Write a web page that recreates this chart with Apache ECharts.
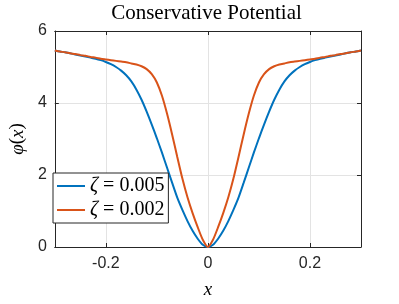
<!DOCTYPE html>
<html>
<head>
<meta charset="utf-8">
<script src="https://cdn.jsdelivr.net/npm/echarts@6/dist/echarts.min.js"></script>
<style>
html,body{margin:0;padding:0;background:#fff;}
#c{width:399px;height:304px;}
</style>
</head>
<body>
<div id="c"></div>
<script>
// ---- data ----
const xValues = [-0.30,-0.29,-0.28,-0.27,-0.26,-0.25,-0.24,-0.23,-0.22,-0.21,-0.20,-0.19,-0.18,-0.17,-0.16,-0.15,-0.14,-0.13,-0.12,-0.11,-0.10,-0.09,-0.08,-0.07,-0.06,-0.05,-0.04,-0.03,-0.02,-0.01,0,0.01,0.02,0.03,0.04,0.05,0.06,0.07,0.08,0.09,0.10,0.11,0.12,0.13,0.14,0.15,0.16,0.17,0.18,0.19,0.20,0.21,0.22,0.23,0.24,0.25,0.26,0.27,0.28,0.29,0.30];
const phiZeta005 = [5.46,5.43,5.41,5.38,5.35,5.32,5.29,5.26,5.23,5.19,5.14,5.08,5.00,4.90,4.77,4.60,4.37,4.09,3.76,3.40,3.02,2.62,2.20,1.78,1.37,1.03,0.72,0.45,0.23,0.06,0,0.06,0.23,0.45,0.72,1.03,1.37,1.78,2.20,2.62,3.02,3.40,3.76,4.09,4.37,4.60,4.77,4.90,5.00,5.08,5.14,5.19,5.23,5.26,5.29,5.32,5.35,5.38,5.41,5.43,5.46];
const phiZeta002 = [5.46,5.43,5.41,5.38,5.36,5.33,5.31,5.28,5.26,5.23,5.21,5.19,5.17,5.15,5.13,5.10,5.07,5.02,4.94,4.80,4.57,4.20,3.70,3.12,2.50,1.90,1.38,0.94,0.55,0.20,0,0.20,0.55,0.94,1.38,1.90,2.50,3.12,3.70,4.20,4.57,4.80,4.94,5.02,5.07,5.10,5.13,5.15,5.17,5.19,5.21,5.23,5.26,5.28,5.31,5.33,5.36,5.38,5.41,5.43,5.46];
const zetaLabels = ['0.005', '0.002'];
const xTicks = [-0.2, 0, 0.2];
const titleText = 'Conservative Potential';

// ---- chart ----
const chart = echarts.init(document.getElementById('c'), null, {renderer: 'canvas'});
const axisColor = '#262626';
const gridColor = '#e3e3e3';
const sansFont = '"Liberation Sans", Arial, Helvetica, sans-serif';
const serifFont = '"Liberation Serif", "Times New Roman", serif';

function pairs(ys) { return xValues.map((x, i) => [x, ys[i]]); }

const baseX = {
  type: 'value', min: -0.3, max: 0.3,
  axisLine: {show: true, onZero: false, lineStyle: {color: axisColor, width: 1}},
  axisTick: {show: true, inside: true, length: 4, customValues: xTicks, lineStyle: {color: axisColor}},
  splitLine: {show: false}
};
const baseY = {
  type: 'value', min: 0, max: 6, interval: 2,
  axisLine: {show: true, onZero: false, lineStyle: {color: axisColor, width: 1}},
  axisTick: {show: true, inside: true, length: 4, lineStyle: {color: axisColor}},
  splitLine: {show: false}
};

chart.setOption({
  animation: false,
  backgroundColor: '#fff',
  grid: {left: 52, right: 38, top: 31, bottom: 56, containLabel: false},
  graphic: [{
    type: 'text', x: 206.5, y: 13,
    style: {text: titleText, fontFamily: serifFont, fontSize: 21, fill: '#000', align: 'center', verticalAlign: 'middle'}
  }],
  legend: {
    orient: 'vertical', left: 53, top: 173,
    padding: [3, 4, 3, 4], itemGap: 4, itemWidth: 28, itemHeight: 2, icon: 'rect',
    backgroundColor: '#fff', borderColor: axisColor, borderWidth: 1, borderRadius: 0,
    formatter: function (name) {
      const i = name === 'z1' ? 0 : 1;
      return '{i|ζ} = ' + zetaLabels[i];
    },
    textStyle: {
      fontFamily: serifFont, fontSize: 20, color: '#000', lineHeight: 20,
      rich: {i: {fontFamily: serifFont, fontStyle: 'italic', fontSize: 20, color: '#000'}}
    }
  },
  xAxis: [
    Object.assign({}, baseX, {
      position: 'bottom',
      axisLabel: {show: true, customValues: xTicks, color: axisColor, fontFamily: sansFont, fontSize: 16, margin: 9,
        formatter: v => (Math.abs(v) < 1e-9 ? '0' : String(v))},
      splitLine: {show: true, lineStyle: {color: gridColor, width: 1}},
      name: 'x', nameLocation: 'middle', nameGap: 33,
      nameTextStyle: {fontFamily: serifFont, fontStyle: 'italic', fontSize: 19, color: '#000'}
    }),
    Object.assign({}, baseX, {position: 'top', axisLabel: {show: false}})
  ],
  yAxis: [
    Object.assign({}, baseY, {
      position: 'left',
      axisLabel: {show: true, color: axisColor, fontFamily: sansFont, fontSize: 16, margin: 8},
      splitLine: {show: true, lineStyle: {color: gridColor, width: 1}},
      name: '{i|φ}(' + '{i|x})', nameLocation: 'middle', nameGap: 27, nameRotate: 90,
      nameTextStyle: {fontFamily: serifFont, fontSize: 19, color: '#000',
        rich: {i: {fontFamily: serifFont, fontStyle: 'italic', fontSize: 19, color: '#000'}}}
    }),
    Object.assign({}, baseY, {position: 'right', axisLabel: {show: false}})
  ],
  series: [
    {name: 'z1', type: 'line', data: pairs(phiZeta005), symbol: 'none', smooth: 0.2,
      lineStyle: {color: '#0072BD', width: 2}, itemStyle: {color: '#0072BD'}, z: 3},
    {name: 'z2', type: 'line', data: pairs(phiZeta002), symbol: 'none', smooth: 0.2,
      lineStyle: {color: '#D95319', width: 2}, itemStyle: {color: '#D95319'}, z: 4}
  ]
});
</script>
</body>
</html>
